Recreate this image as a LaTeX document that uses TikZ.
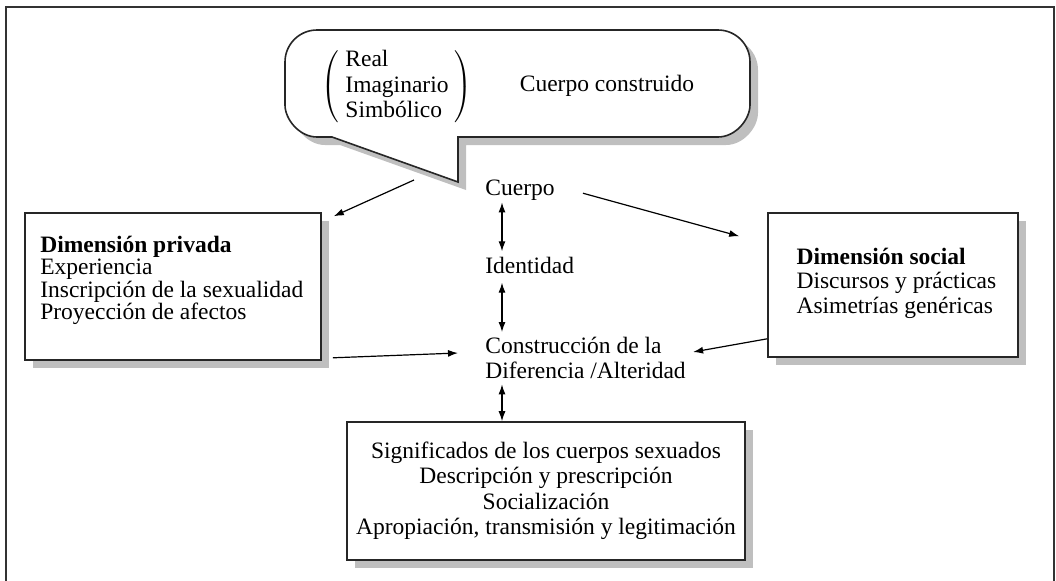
\documentclass[tikz,border=0pt]{standalone}
\usepackage{fontspec}
\setmainfont{Liberation Serif}
\usetikzlibrary{calc,shadows,arrows.meta}

\tikzset{
  box/.style={draw=black!85, line width=0.8pt, fill=white,
    drop shadow={shadow xshift=4pt, shadow yshift=-4pt, fill=black!25, opacity=1}},
  txt/.style={inner sep=0pt, align=left},
  arr/.style={-{Latex[length=5pt,width=3.5pt]}, line width=0.6pt},
  dbl/.style={{Latex[length=5pt,width=3.5pt]}-{Latex[length=5pt,width=3.5pt]}, line width=0.6pt}
}

\begin{document}
\begin{tikzpicture}[x=0.5pt, y=-0.5pt, font=\fontsize{11.75}{12.5}\selectfont]
\useasboundingbox (0,0) rectangle (1056,580);
\draw[line width=1pt, black!80] (6,7) rectangle (1054,600);

% callout
\coordinate (tip) at (458,182);
\draw[box] (tip) -- (458,137) -- (718,137) .. controls (735.7,137) and (750,119.3) .. (750,105)
  -- (750,62) .. controls (750,44.3) and (735.7,30) .. (718,30)
  -- (317,30) .. controls (299.3,30) and (285,44.3) .. (285,62)
  -- (285,105) .. controls (285,119.3) and (299.3,137) .. (317,137) -- (332,137) -- cycle;
\node[font=\fontsize{11.75}{12.75}\selectfont] (rsi) at (397,87) {\setlength{\tabcolsep}{3pt}$\left(\begin{tabular}{l}Real\\Imaginario\\Simbólico\end{tabular}\right)$};
\node (construido) at (607,86) {Cuerpo construido};

% centre column
\node[txt, anchor=base west] (cuerpo) at (485,195) {Cuerpo};
\node[txt, anchor=base west] (identidad) at (485,273) {Identidad};
\node[txt, anchor=north west] (construccion) at (485,337) {Construcción de la\\Diferencia /Alteridad};

% boxes
\node[box, minimum width=148pt, minimum height=73.5pt] (privada) at (173,286.5) {};
\node[txt, anchor=north west, font=\fontsize{11.75}{11.25}\selectfont] (privadatxt) at ($(privada.north west)+(15.7,23.5)$) {\textbf{Dimensión privada}\\Experiencia\\Inscripción de la sexualidad\\Proyección de afectos};
\node[box, minimum width=125pt, minimum height=72pt] (social) at (893,285) {};
\node[txt, anchor=north west, font=\fontsize{11.75}{12.25}\selectfont] (socialtxt) at ($(social.north west)+(29,35.5)$) {\textbf{Dimensión social}\\Discursos y prácticas\\Asimetrías genéricas};
\node[box, align=center, minimum width=199pt, minimum height=69pt, font=\fontsize{11.75}{12.75}\selectfont] (significados) at (546,491) {Significados de los cuerpos sexuados\\Descripción y prescripción\\Socialización\\Apropiación, transmisión y legitimación};

% arrows
\draw[dbl] ($(cuerpo.south west)+(17,2)$) -- ($(identidad.north west)+(17,-5)$);
\draw[dbl] ($(identidad.south west)+(17,9)$) -- ($(construccion.north west)+(17,-5)$);
\coordinate (a3) at ($(construccion.south west)+(17,5)$);
\draw[dbl] (a3) -- (a3 |- significados.north);
\draw[arr] ($(tip)+(-44,-2)$) -- ($(privada.north east)+(12,4)$);
\draw[arr] ($(cuerpo.east)+(28,3.5)$) -- ($(social.north west)+(-28,24)$);
\draw[arr] ($(privada.south east)+(11,-3)$) -- ($(construccion.north west)+(-27,16)$);
\draw[arr] ($(social.south west)+(0,-19)$) -- ($(construccion.north east)+(7,15)$);
\end{tikzpicture}
\end{document}
